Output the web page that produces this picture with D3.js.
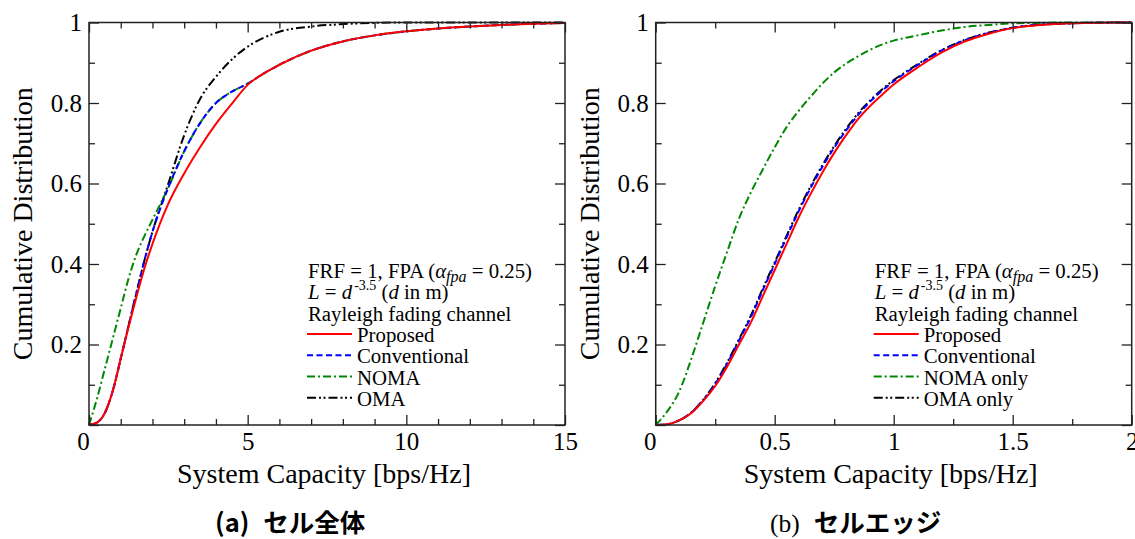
<!DOCTYPE html>
<html>
<head>
<meta charset="utf-8">
<script src="https://d3js.org/d3.v7.min.js"></script>
<style>
body { margin: 0; background: #fff; }
svg { display: block; font-family: 'Liberation Serif', 'Times New Roman', serif; }
.axis-label { font-size: 28px; fill: #000; }
.legend text { font-size: 20.8px; fill: #000; }
.caption { font-family: 'Noto Sans CJK JP', sans-serif; font-size: 25.5px; font-weight: bold; fill: #000; }
</style>
</head>
<body>
<svg width="1135" height="539"></svg>
<script>
const svg = d3.select('svg');

// (a) whole cell : x grid + one cdf per scheme
const cellX = [0, 0.25, 0.5, 0.75, 1, 1.25, 1.5, 1.75, 2, 2.5, 3, 3.5, 4, 4.5, 5, 5.5, 6, 7, 8, 9, 10, 11, 12, 13, 14, 15];
const cellProposed = [0, .006, .03, .085, .165, .245, .32, .39, .45, .55, .625, .69, .748, .798, .845, .873, .895, .93, .953, .968, .978, .985, .99, .994, .997, .999];
const cellConventional = [0, .006, .03, .085, .165, .248, .33, .41, .48, .59, .68, .75, .80, .828, .848, .873, .895, .93, .953, .968, .978, .985, .99, .994, .997, .999];
const cellNoma = [0, .065, .14, .215, .29, .365, .425, .47, .51, .59, .68, .75, .80, .828, .848, .873, .895, .93, .953, .968, .978, .985, .99, .994, .997, .999];
const cellOma = [0, .006, .03, .085, .165, .248, .33, .41, .48, .60, .72, .81, .865, .908, .94, .962, .977, .99, .996, .999, 1, 1, 1, 1, 1, 1];

// (b) cell edge
const edgeX = [0, .05, .1, .15, .2, .25, .3, .35, .4, .45, .5, .55, .6, .65, .7, .75, .8, .85, .9, .95, 1, 1.05, 1.1, 1.2, 1.3, 1.4, 1.5, 1.6, 1.7, 1.8, 2];
const edgeProposed = [0, .002, .012, .03, .06, .097, .145, .2, .255, .32, .385, .45, .515, .573, .627, .676, .72, .76, .792, .82, .846, .868, .888, .925, .953, .972, .986, .993, .997, .999, 1];
const edgeConventional = [0, .002, .012, .031, .062, .102, .152, .21, .268, .335, .40, .466, .53, .588, .641, .689, .732, .77, .803, .83, .854, .875, .894, .93, .956, .974, .987, .994, .997, .999, 1];
const edgeNomaOnly = [0, .035, .085, .165, .255, .345, .43, .513, .578, .635, .69, .74, .78, .815, .848, .876, .898, .916, .932, .945, .955, .962, .968, .98, .989, .994, .998, .999, 1, 1, 1];
const edgeOmaOnly = [0, .002, .012, .031, .063, .104, .155, .213, .272, .339, .404, .47, .534, .592, .645, .693, .736, .774, .806, .833, .857, .877, .896, .931, .957, .975, .987, .994, .997, .999, 1];

const yMajor = [0, 0.2, 0.4, 0.6, 0.8, 1];
const yMinor = [0.1, 0.3, 0.5, 0.7, 0.9];
const yLabels = ['', '0.2', '0.4', '0.6', '0.8', '1'];

const styles = {
    proposed: { color: '#ff0000', dash: null },
    conventional: { color: '#0000ff', dash: '6,3.5' },
    noma: { color: '#008800', dash: '8,3,2,3' },
    oma: { color: '#000000', dash: '9,3,2,2.5,2,3' }
};

const plotTop = 22.5, plotBottom = 425, plotWidth = 476;
const serif = 'Liberation Serif';

const panel = (selection, props) => {
    const { left, xMax, xMajor, xMinor, xFormat, xs, series, legendNames, caption } = props;

    const xScale = d3.scaleLinear().domain([0, xMax]).range([left, left + plotWidth]);
    const yScale = d3.scaleLinear().domain([0, 1]).range([plotBottom, plotTop]);

    const g = selection.append('g');

    // curves (red last so it sits on top)
    const line = d3.line()
        .x(d => xScale(d[0]))
        .y(d => yScale(d[1]))
        .curve(d3.curveMonotoneX);
    series.slice().reverse().forEach(s => {
        g.append('path')
            .datum(xs.map((x, i) => [x, s.values[i]]))
            .attr('d', line)
            .attr('fill', 'none')
            .attr('stroke', styles[s.key].color)
            .attr('stroke-width', 2)
            .attr('stroke-dasharray', styles[s.key].dash);
    });

    // inward ticks on all four sides, labels only bottom/left
    const axisSide = (axisFn, scale, values, size, fmt, tr) => {
        const a = g.append('g')
            .attr('transform', tr)
            .call(axisFn(scale).tickValues(values).tickSize(size).tickPadding(7).tickFormat(fmt))
            .attr('font-family', serif)
            .attr('font-size', 25);
        a.select('.domain').remove();
        a.selectAll('line').attr('stroke', '#222').attr('stroke-width', 1.3);
        a.selectAll('text').attr('fill', '#000');
        return a;
    };
    const none = () => '';
    const xb = axisSide(d3.axisBottom, xScale, xMajor, -10, xFormat, `translate(0,${plotBottom})`);
    xb.selectAll('text').attr('dx', d => d === 0 ? -6 : 0);
    axisSide(d3.axisBottom, xScale, xMinor, -6, none, `translate(0,${plotBottom})`);
    axisSide(d3.axisTop, xScale, xMajor, -10, none, `translate(0,${plotTop})`);
    axisSide(d3.axisTop, xScale, xMinor, -6, none, `translate(0,${plotTop})`);
    axisSide(d3.axisLeft, yScale, yMajor, -10, (d, i) => yLabels[i], `translate(${left},0)`);
    axisSide(d3.axisLeft, yScale, yMinor, -6, none, `translate(${left},0)`);
    axisSide(d3.axisRight, yScale, yMajor, -10, none, `translate(${left + plotWidth},0)`);
    axisSide(d3.axisRight, yScale, yMinor, -6, none, `translate(${left + plotWidth},0)`);

    g.append('rect')
        .attr('x', left).attr('y', plotTop)
        .attr('width', plotWidth).attr('height', plotBottom - plotTop)
        .attr('fill', 'none')
        .attr('stroke', '#222')
        .attr('stroke-width', 1.5);

    // axis titles
    g.append('text')
        .attr('class', 'axis-label')
        .attr('font-family', serif)
        .attr('x', left + plotWidth / 2 - 3)
        .attr('y', 483)
        .attr('text-anchor', 'middle')
        .text('System Capacity [bps/Hz]');
    g.append('text')
        .attr('class', 'axis-label')
        .attr('font-family', serif)
        .attr('transform', `translate(${left - 57},${(plotTop + plotBottom) / 2}) rotate(-90)`)
        .attr('text-anchor', 'middle')
        .text('Cumulative Distribution');

    // legend block
    const lg = g.append('g').attr('class', 'legend')
        .attr('font-family', serif)
        .attr('transform', `translate(${left + 219},278)`);
    const rowH = 21.3;
    const t1 = lg.append('text').attr('x', 0).attr('y', 0);
    t1.append('tspan').text('FRF = 1, FPA (');
    t1.append('tspan').attr('font-style', 'italic').text('α');
    t1.append('tspan').attr('font-style', 'italic').attr('font-size', 16).attr('dy', 4).text('fpa');
    t1.append('tspan').attr('dy', -4).text(' = 0.25)');
    const t2 = lg.append('text').attr('x', 0).attr('y', rowH);
    t2.append('tspan').attr('font-style', 'italic').text('L');
    t2.append('tspan').text(' = ');
    t2.append('tspan').attr('font-style', 'italic').text('d');
    t2.append('tspan').attr('font-size', 14).attr('dx', 2).attr('dy', -9).text('-3.5');
    t2.append('tspan').attr('dy', 9).text(' (');
    t2.append('tspan').attr('font-style', 'italic').text('d');
    t2.append('tspan').text(' in m)');
    lg.append('text').attr('x', 0).attr('y', rowH * 2).text('Rayleigh fading channel');

    series.forEach((s, i) => {
        const y = rowH * (3 + i);
        lg.append('line')
            .attr('x1', -1).attr('x2', 44)
            .attr('y1', y - 8).attr('y2', y - 8)
            .attr('stroke', styles[s.key].color)
            .attr('stroke-width', 2)
            .attr('stroke-dasharray', styles[s.key].dash);
        lg.append('text').attr('x', 49).attr('y', y).text(legendNames[i]);
    });

    // caption under the panel
    const cap = g.append('text')
        .attr('class', 'caption')
        .attr('x', caption.x)
        .attr('y', 532);
    cap.append('tspan').attr('font-family', caption.labelFont).attr('font-weight', caption.labelWeight).text(caption.label);
    cap.append('tspan').attr('dx', 14).text(caption.text);
};

svg.call(panel, {
    left: 89,
    xMax: 15,
    xMajor: [0, 5, 10, 15],
    xMinor: d3.range(1, 15).filter(v => v % 5 !== 0),
    xFormat: d3.format('d'),
    xs: cellX,
    series: [
        { key: 'proposed', values: cellProposed },
        { key: 'conventional', values: cellConventional },
        { key: 'noma', values: cellNoma },
        { key: 'oma', values: cellOma }
    ],
    legendNames: ['Proposed', 'Conventional', 'NOMA', 'OMA'],
    caption: { x: 215, label: '(a)', text: 'セル全体', labelFont: 'Noto Sans CJK JP', labelWeight: 'bold' }
});

svg.call(panel, {
    left: 655.7,
    xMax: 2,
    xMajor: [0, 0.5, 1, 1.5, 2],
    xMinor: [0.25, 0.75, 1.25, 1.75],
    xFormat: d => d3.format('~g')(d),
    xs: edgeX,
    series: [
        { key: 'proposed', values: edgeProposed },
        { key: 'conventional', values: edgeConventional },
        { key: 'noma', values: edgeNomaOnly },
        { key: 'oma', values: edgeOmaOnly }
    ],
    legendNames: ['Proposed', 'Conventional', 'NOMA only', 'OMA only'],
    caption: { x: 770, label: '(b)', text: 'セルエッジ', labelFont: 'Liberation Serif', labelWeight: 'normal' }
});
</script>
</body>
</html>
